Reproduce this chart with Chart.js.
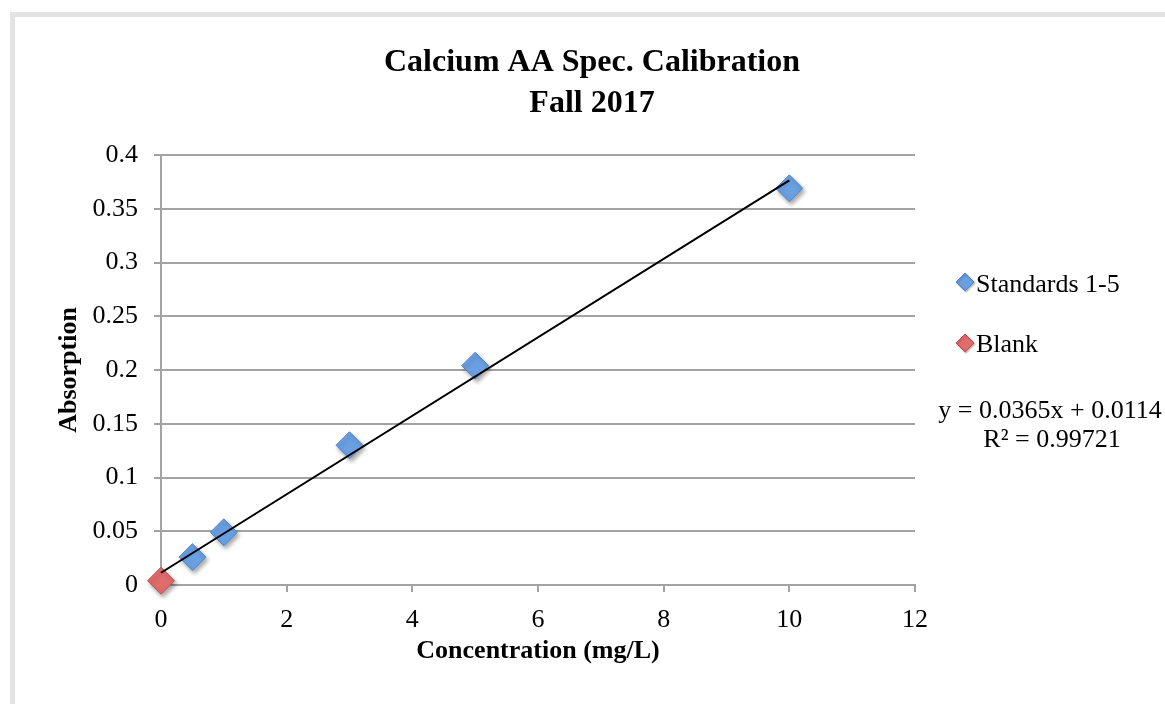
<!DOCTYPE html>
<html>
<head>
<meta charset="utf-8">
<title>Calcium AA Spec. Calibration</title>
<script src="https://cdn.jsdelivr.net/npm/chart.js@4.4.0/dist/chart.umd.min.js"></script>
<style>
  html, body { margin: 0; padding: 0; background: #fff; }
  canvas { display: block; }
</style>
</head>
<body>
<canvas id="calChart" width="1165" height="704"></canvas>
<script>
// data
const concentration = [0.5, 1, 3, 5, 10];          // mg/L, standards 1-5
const standardsAbs = [0.026, 0.049, 0.130, 0.204, 0.369];
const blankConc = [0];
const blankAbs = [0.004];

// linear trendline as printed on the chart
const slope = 0.0365;
const intercept = 0.0114;
const trendRange = [0, 10];

const titleLines = ['Calcium AA Spec. Calibration', 'Fall 2017'];
const legendLabels = ['Standards 1-5', 'Blank'];
const equationLines = ['y = 0.0365x + 0.0114', 'R\u00b2 = 0.99721'];

const serif = '"Liberation Serif", "Times New Roman", serif';
const blueFill = '#6a9fe2', blueEdge = '#4f86cc';
const redFill = '#e06c6c', redEdge = '#c0504d';
const gridGray = '#a3a3a3';

function diamond(ctx, x, y, r, fill, edge) {
    ctx.beginPath();
    ctx.moveTo(x - r, y);
    ctx.lineTo(x, y - r);
    ctx.lineTo(x + r, y);
    ctx.lineTo(x, y + r);
    ctx.closePath();
    ctx.fillStyle = fill;
    ctx.fill();
    ctx.lineWidth = 1;
    ctx.strokeStyle = edge;
    ctx.stroke();
}

// frame, title, legend and equation
const decorations = {
    id: 'decorations',
    beforeDraw(chart) {
        const ctx = chart.ctx;
        ctx.save();
        ctx.fillStyle = '#e3e3e3';
        ctx.fillRect(10, 12, 5, chart.height - 12);
        ctx.fillRect(10, 12, chart.width - 10, 5);
        ctx.restore();
    },
    afterDraw(chart) {
        const ctx = chart.ctx;
        ctx.save();
        ctx.fillStyle = '#000';
        ctx.textAlign = 'center';
        ctx.textBaseline = 'alphabetic';
        ctx.font = 'bold 32px ' + serif;
        ctx.fillText(titleLines[0], 592, 71);
        ctx.fillText(titleLines[1], 592, 112);

        // legend
        ctx.save();
        ctx.shadowColor = 'rgba(0,0,0,0.3)';
        ctx.shadowBlur = 2;
        ctx.shadowOffsetX = 1;
        ctx.shadowOffsetY = 1;
        diamond(ctx, 965, 282, 9, blueFill, blueEdge);
        diamond(ctx, 965, 343, 9, redFill, redEdge);
        ctx.restore();
        ctx.font = '26px ' + serif;
        ctx.textAlign = 'left';
        ctx.fillText(legendLabels[0], 976, 292);
        ctx.fillText(legendLabels[1], 976, 352);

        ctx.textAlign = 'center';
        ctx.fillText(equationLines[0], 1050, 418);
        ctx.fillText(equationLines[1], 1052, 447);
        ctx.restore();
    },
    beforeDatasetDraw(chart, args) {
        if (args.meta.type !== 'scatter') return;
        const ctx = chart.ctx;
        ctx.save();
        ctx.shadowColor = 'rgba(0,0,0,0.35)';
        ctx.shadowBlur = 4;
        ctx.shadowOffsetX = 2;
        ctx.shadowOffsetY = 3;
    },
    afterDatasetDraw(chart, args) {
        if (args.meta.type !== 'scatter') return;
        chart.ctx.restore();
    }
};

new Chart(document.getElementById('calChart'), {
    type: 'scatter',
    data: {
        datasets: [
            {
                type: 'line',
                label: 'Linear (Standards)',
                data: trendRange.map(x => ({ x: x, y: slope * x + intercept })),
                borderColor: '#000',
                borderWidth: 2,
                pointRadius: 0,
                fill: false,
                clip: false,
                order: 0
            },
            {
                label: legendLabels[0],
                data: concentration.map((x, i) => ({ x: x, y: standardsAbs[i] })),
                pointStyle: 'rectRot',
                pointRadius: 13.5,
                backgroundColor: blueFill,
                borderColor: blueEdge,
                borderWidth: 1,
                clip: false,
                order: 1
            },
            {
                label: legendLabels[1],
                data: blankConc.map((x, i) => ({ x: x, y: blankAbs[i] })),
                pointStyle: 'rectRot',
                pointRadius: 13.5,
                backgroundColor: redFill,
                borderColor: redEdge,
                borderWidth: 1,
                clip: false,
                order: 2
            }
        ]
    },
    options: {
        responsive: false,
        animation: false,
        devicePixelRatio: 1,
        layout: { padding: { left: 50, top: 155, right: 250, bottom: 0 } },
        plugins: {
            legend: { display: false },
            tooltip: { enabled: false },
            title: { display: false }
        },
        scales: {
            x: {
                type: 'linear',
                min: 0,
                max: 12,
                afterFit: s => { s.height = 119; },
                ticks: {
                    stepSize: 2,
                    color: '#000',
                    padding: 13,
                    font: { family: serif, size: 26 }
                },
                grid: { drawOnChartArea: false, drawTicks: true, tickLength: 7, color: gridGray, lineWidth: 2 },
                border: { color: gridGray, width: 2 },
                title: {
                    display: true,
                    text: 'Concentration (mg/L)',
                    color: '#000',
                    font: { family: serif, size: 26, weight: 'bold' },
                    padding: { top: 0, bottom: 37 }
                }
            },
            y: {
                min: 0,
                max: 0.4,
                afterFit: s => { s.width = 111; },
                ticks: {
                    stepSize: 0.05,
                    color: '#000',
                    padding: 16,
                    font: { family: serif, size: 26 },
                    callback: v => String(Math.round(v * 100) / 100)
                },
                grid: { color: gridGray, lineWidth: 2, drawTicks: true, tickLength: 7 },
                border: { color: gridGray, width: 2 },
                title: {
                    display: true,
                    text: 'Absorption',
                    color: '#000',
                    font: { family: serif, size: 26, weight: 'bold' },
                    padding: { top: 4, bottom: 0 }
                }
            }
        }
    },
    plugins: [decorations]
});
</script>
</body>
</html>
